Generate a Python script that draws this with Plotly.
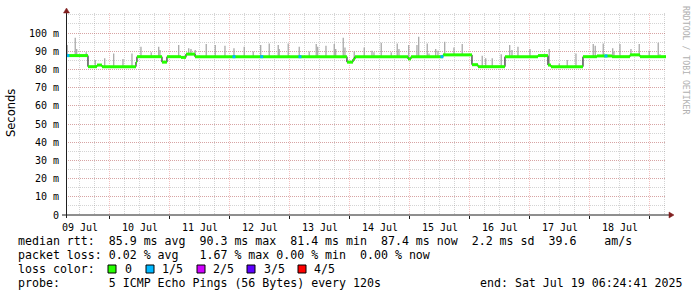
import plotly.graph_objects as go
import pandas as pd

# ---------------- data ----------------
START = pd.Timestamp("2025-07-09 00:00:00")
RANGE_START = "2025-07-09 06:24:41"
RANGE_END = "2025-07-19 06:24:41"

# median RTT (ms) as step breakpoints: hours after 09 Jul 00:00
median_hours = [6.41, 15.2, 18.8, 20.8, 34.4, 34.8, 44.8, 46.8, 52.4, 54.4, 58.0,
                118.8, 121.2, 122.0, 143.2, 144.4, 157.2, 168.8, 171.2, 182.0,
                195.2, 199.2, 200.4, 213.2, 218.8, 224.8, 232.0, 236.0, 246.41]
median_ms = [87.6, 81.5, 82.4, 81.5, 84.0, 87.0, 84.0, 87.0, 86.6, 88.4, 87.0,
             84.0, 85.6, 87.0, 85.8, 87.0, 88.0, 82.6, 81.5, 87.0,
             87.6, 82.4, 81.5, 87.0, 87.4, 87.0, 88.0, 87.0, 87.4]

# smoke spikes (max ping of a round), ms
spike_hours = [6.9, 10.1, 10.7, 14.5, 18.1, 21.9, 25.5, 29.2, 32.8, 36.4, 40.5, 43.5,
               44.0, 51.5, 55.5, 56.4, 58.1, 62.5, 66.1, 70.0, 73.6, 77.7, 81.3, 84.3,
               87.7, 91.3, 91.7, 95.3, 99.7, 103.7, 106.5, 107.1, 110.4, 113.7, 114.3,
               117.3, 118.0, 121.7, 125.7, 128.8, 129.6, 132.5, 136.5, 138.9, 139.6,
               143.5, 146.8, 147.5, 150.9, 151.6, 154.3, 155.2, 157.9, 161.6, 164.9,
               172.9, 174.3, 176.9, 180.5, 183.9, 184.8, 187.2, 192.0, 199.7, 203.7,
               206.9, 210.4, 217.3, 218.1, 221.3, 225.1, 225.6, 228.0, 232.4, 235.7,
               239.7, 243.3, 244.0]
spike_top_ms = [93.4, 97.4, 91.2, 89.4, 85.2, 86.1, 88.8, 85.7, 88.8, 92.5, 89.4, 92.5,
                90.7, 93.4, 91.6, 91.2, 90.7, 94.0, 93.4, 93.0, 91.6, 92.5, 89.8, 93.4,
                94.3, 93.4, 91.2, 94.3, 92.5, 89.8, 94.0, 92.5, 93.0, 94.0, 91.2,
                97.4, 92.0, 89.8, 92.0, 90.2, 89.4, 94.7, 89.4, 94.3, 91.2,
                93.4, 93.4, 98.0, 94.3, 88.8, 91.2, 90.2, 95.2, 92.0, 94.0,
                87.5, 86.1, 86.1, 88.3, 93.4, 90.7, 92.5, 91.2, 91.2, 83.3,
                85.2, 88.8, 94.0, 93.0, 94.3, 91.6, 89.8, 94.0, 91.2, 94.0,
                90.2, 94.7, 88.3]

# rounds with 1/5 loss
loss1_hours = [7.2, 73.6, 84.7, 100.0, 156.8, 222.4]

ytick_vals = [0, 10, 20, 30, 40, 50, 60, 70, 80, 90, 100]
ytick_text = ["0", "10 m", "20 m", "30 m", "40 m", "50 m", "60 m", "70 m", "80 m", "90 m", "100 m"]

loss_labels = ["0", "1/5", "2/5", "3/5", "4/5"]
loss_colors = ["#26ff00", "#00b8ff", "#d000ff", "#5e00ff", "#ff0000"]

line1 = "median rtt:  85.9 ms avg  90.3 ms max  81.4 ms min  87.4 ms now  2.2 ms sd  39.6    am/s"
line2 = "packet loss: 0.02 % avg   1.67 % max 0.00 % min  0.00 % now"
line3 = "loss color:"
line4 = "probe:       5 ICMP Echo Pings (56 Bytes) every 120s"
line4b = "end: Sat Jul 19 06:24:41 2025"

# ---------------- helpers ----------------
def t(h):
    return START + pd.Timedelta(hours=h)

def median_at(h):
    v = median_ms[0]
    for hh, mv in zip(median_hours, median_ms):
        if hh <= h:
            v = mv
    return v

W, H = 697, 297
L, R, T, B = 66, 31, 13, 82
PW, PH = W - L - R, H - T - B

def px(x):
    return (x - L) / PW

def py(y):
    return (H - B - y) / PH

MONO = "DejaVu Sans Mono"

fig = go.Figure()

# smoke spikes
sx, sy = [], []
for h, top in zip(spike_hours, spike_top_ms):
    sx += [t(h), t(h), None]
    sy += [median_at(h), top, None]
fig.add_trace(go.Scatter(x=sx, y=sy, mode="lines", line=dict(color="#a2a2a2", width=1.2),
                         hoverinfo="skip", showlegend=False))

# black step connector
fig.add_trace(go.Scatter(x=[t(h) for h in median_hours], y=median_ms, mode="lines",
                         line=dict(color="#000000", width=1, shape="hv"),
                         hoverinfo="skip", showlegend=False))

# green median segments
gx, gy = [], []
for i in range(len(median_hours) - 1):
    gx += [t(median_hours[i]), t(median_hours[i + 1]), None]
    gy += [median_ms[i], median_ms[i], None]
fig.add_trace(go.Scatter(x=gx, y=gy, mode="lines", line=dict(color=loss_colors[0], width=3),
                         hoverinfo="skip", showlegend=False))

# 1/5 loss marks
fig.add_trace(go.Scatter(x=[t(h) for h in loss1_hours], y=[median_at(h) for h in loss1_hours],
                         mode="markers", marker=dict(color=loss_colors[1], size=3, symbol="square",
                                                     line=dict(width=0)),
                         hoverinfo="skip", showlegend=False))

MAJ = "rgba(222,79,79,0.36)"
MIN = "rgba(143,143,143,0.38)"

fig.update_layout(
    width=W, height=H,
    margin=dict(l=L, r=R, t=T, b=B, pad=0),
    paper_bgcolor="white", plot_bgcolor="white",
    showlegend=False,
    xaxis=dict(
        type="date", range=[RANGE_START, RANGE_END],
        tick0="2025-07-09", dtick=86400000, ticklabelmode="period", tickformat="%d %b",
        ticks="outside", ticklen=3, tickcolor="#1f1f1f",
        showgrid=True, gridcolor=MAJ, griddash="1px,1px", gridwidth=1,
        minor=dict(dtick=6 * 3600000, showgrid=True, gridcolor=MIN, griddash="1px,1px", ticks=""),
        showline=False, zeroline=False,
        tickfont=dict(family=MONO, size=10, color="black"),
    ),
    yaxis=dict(
        range=[0, 111], tickvals=ytick_vals, ticktext=ytick_text,
        showgrid=True, gridcolor=MAJ, griddash="1px,1px", gridwidth=1,
        minor=dict(dtick=5, showgrid=True, gridcolor=MIN, griddash="1px,1px"),
        ticks="", ticklabelstandoff=6,
        showline=False, zeroline=False,
        tickfont=dict(family=MONO, size=10, color="black"),
    ),
)

shapes = []
# axes
shapes.append(dict(type="line", xref="paper", yref="paper", x0=px(62), x1=px(670), y0=py(215), y1=py(215),
                   line=dict(color="#1f1f1f", width=1)))
shapes.append(dict(type="line", xref="paper", yref="paper", x0=px(66.5), x1=px(66.5), y0=py(218), y1=py(12),
                   line=dict(color="#1f1f1f", width=1)))
# arrows
shapes.append(dict(type="path", xref="paper", yref="paper",
                   path=f"M {px(669)} {py(212)} L {px(674)} {py(215)} L {px(669)} {py(218)} Z",
                   fillcolor="#801f1f", line=dict(color="#801f1f", width=0.5)))
shapes.append(dict(type="path", xref="paper", yref="paper",
                   path=f"M {px(63.5)} {py(13)} L {px(66.5)} {py(8)} L {px(69.5)} {py(13)} Z",
                   fillcolor="#801f1f", line=dict(color="#801f1f", width=0.5)))
# loss colour squares
sq_x = [108, 146, 197, 247, 298]
lab_x = [123, 160, 211, 262, 312]
for sx0, c in zip(sq_x, loss_colors):
    shapes.append(dict(type="rect", xref="paper", yref="paper",
                       x0=px(sx0), x1=px(sx0 + 8), y0=py(273), y1=py(265),
                       fillcolor=c, line=dict(color="black", width=1)))
fig.update_layout(shapes=shapes)

ann = []
def txt(x, y, s, size=11.6, color="black", family=MONO, angle=0, xanchor="left"):
    ann.append(dict(xref="paper", yref="paper", x=px(x), y=py(y), text=s, showarrow=False,
                    xanchor=xanchor, yanchor="middle", textangle=angle,
                    font=dict(family=family, size=size, color=color)))

sp = lambda s: s.replace(" ", "&nbsp;")
txt(16, 241.5, sp(line1))
txt(16, 255.3, sp(line2))
txt(16, 269, sp(line3))
for lx, lab in zip(lab_x, loss_labels):
    txt(lx, 269, lab)
txt(16, 283.3, sp(line4))
txt(478, 283.3, sp(line4b))
txt(11, 113, "Seconds", size=11.5, family="DejaVu Sans", angle=-90, xanchor="center")
txt(686, 60, sp("RRDTOOL / TOBI OETIKER"), size=8.2, color="#b0b0b0", angle=90, xanchor="center")
fig.update_layout(annotations=ann)

fig.write_html("out.html")
